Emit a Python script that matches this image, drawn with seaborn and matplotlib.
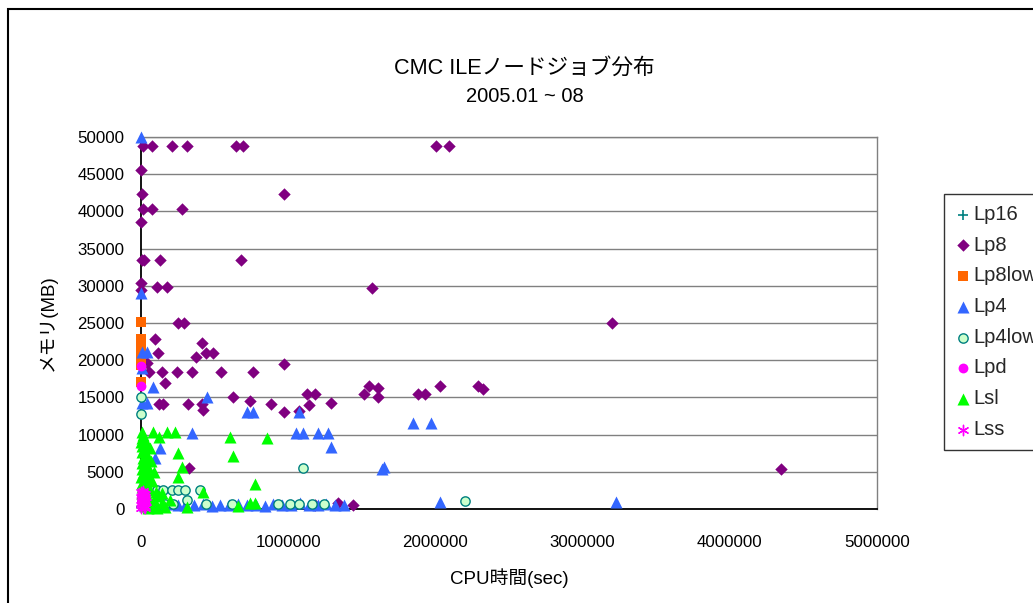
import matplotlib
matplotlib.use("Agg")
import matplotlib.pyplot as plt
import seaborn as sns
import pandas as pd
from matplotlib.patches import Rectangle

# ---------------- data ----------------
title_main = "CMC ILEノードジョブ分布"
title_sub = "2005.01 ~ 08"
x_label = "CPU時間(sec)"
y_label = "メモリ(MB)"
x_ticks = [0, 1000000, 2000000, 3000000, 4000000, 5000000]
y_ticks = [0, 5000, 10000, 15000, 20000, 25000, 30000, 35000, 40000, 45000, 50000]

lp16_x = [1000, 4000]
lp16_y = [300, 900]

lp8_x = [14000, 75000, 211000, 313000, 646000, 694000, 2007000, 2095000,
         3000, 5000, 973000, 14000, 75000, 279000, 3000,
         5000, 20000, 129000, 680000, 3000, 2000, 110000, 177000, 1570000,
         252000, 293000, 3200000, 95000, 415000, 116000, 374000, 442000, 490000, 973000, 40000,
         54000, 143000, 245000, 347000, 544000, 762000, 163000,
         2030000, 2290000, 2320000, 1550000, 1610000, 1515000, 1610000, 1880000, 1930000,
         1130000, 1180000, 1140000, 1290000, 973000, 1075000,
         122000, 150000, 320000, 415000, 422000, 626000, 741000, 884000,
         327000, 4350000, 1440000, 1340000, 1180000]
lp8_y = [48800, 48800, 48800, 48800, 48800, 48800, 48800, 48800,
         45600, 42300, 42300, 40300, 40300, 40300, 38600,
         33500, 33500, 33500, 33500, 30400, 29400, 29800, 29800, 29700,
         25000, 25000, 25000, 22800, 22300, 21000, 20400, 21000, 21000, 19500, 19600,
         18400, 18400, 18400, 18400, 18400, 18400, 16900,
         16500, 16500, 16100, 16500, 16300, 15500, 15100, 15500, 15500,
         15500, 15500, 14000, 14200, 13000, 13200,
         14100, 14100, 14100, 14100, 13300, 15100, 14500, 14100,
         5500, 5400, 500, 800, 500]

lp8low_x = [2000, 2000, 2000, 2000, 2000, 2000]
lp8low_y = [25100, 22900, 21700, 20300, 19300, 17100]

lp4_x = [2000, 2000, 5000, 40000, 5000, 80000, 449000, 5000, 40000,
         721000, 762000, 1070000, 1850000, 1970000, 1050000, 1100000, 1200000, 1270000,
         1290000, 1640000, 1650000, 347000, 129000, 95000, 27000, 2030000, 3230000,
         20000, 60000, 100000, 150000, 200000, 250000, 300000, 360000, 420000, 480000,
         540000, 600000, 660000, 720000, 780000, 840000, 900000, 960000, 1020000,
         1080000, 1140000, 1200000, 1260000, 1320000, 1380000]
lp4_y = [50000, 29000, 21100, 21100, 19000, 16400, 15100, 14200, 14200,
         13000, 13000, 13000, 11600, 11600, 10200, 10200, 10200, 10200,
         8300, 5400, 5600, 10200, 8200, 6900, 4300, 900, 900,
         500, 300, 600, 400, 700, 500, 600, 500, 700, 400,
         600, 500, 700, 500, 600, 400, 700, 600, 500,
         800, 600, 500, 700, 500, 600]

lp4low_x = [3000, 2000, 80000, 109000, 150000, 211000, 252000, 299000, 401000, 313000,
            163000, 218000, 442000, 619000, 932000, 1010000, 1070000, 1160000, 1240000,
            1100000, 2200000, 60000]
lp4low_y = [15100, 12800, 2500, 2600, 2600, 2600, 2600, 2600, 2600, 1200,
            700, 700, 700, 700, 700, 700, 700, 700, 700,
            5500, 1100, 1800]

lpd_x = [2000, 2000, 3000, 8000, 15000, 5000, 20000]
lpd_y = [19200, 16500, 1500, 800, 2000, 300, 1200]

lsl_x = [5000, 15000, 8000, 25000, 3000, 40000, 10000, 60000, 20000, 5000,
         30000, 50000, 12000, 70000, 4000, 25000, 45000, 8000, 35000, 90000,
         15000, 55000, 3000, 28000, 75000, 10000, 40000, 6000, 20000, 60000,
         100000, 4000, 30000, 120000, 50000, 90000, 10000, 140000, 70000, 25000,
         160000, 110000, 45000,
         82000, 177000, 231000, 122000, 252000, 279000, 252000, 605000, 626000,
         857000, 776000, 422000, 313000, 660000, 741000, 776000, 143000, 200000]
lsl_y = [10400, 10000, 9500, 9200, 9000, 8800, 8500, 8200, 8000, 7600,
         7300, 7000, 6800, 6500, 6200, 6000, 5700, 5400, 5100, 5000,
         4800, 4500, 4300, 4000, 3700, 3500, 3200, 3000, 2800, 2600,
         2300, 2200, 2000, 1800, 1500, 1200, 1000, 800, 600, 400,
         300, 200, 100,
         10300, 10300, 10300, 9700, 7500, 5600, 4300, 9700, 7100,
         9500, 3400, 2300, 300, 400, 800, 800, 2100, 1200]

lss_x = [1000, 3000, 6000, 9000, 12000, 15000, 18000, 22000, 26000, 30000,
         2000, 5000, 8000, 11000, 14000, 17000, 20000, 24000, 28000, 32000,
         4000, 7000, 10000, 13000, 16000, 19000, 23000, 27000]
lss_y = [200, 500, 900, 1300, 1700, 2100, 300, 800, 1200, 1600,
         2300, 1900, 1500, 1100, 700, 300, 1800, 400, 2000, 1000,
         1400, 2200, 600, 2400, 1000, 1600, 2000, 100]

# ---------------- style ----------------
sns.set_theme(style="white")
plt.rcParams["font.family"] = ["Liberation Sans", "Noto Sans CJK JP", "DejaVu Sans"]

W, H = 1033, 603
fig = plt.figure(figsize=(W / 100, H / 100), dpi=100)
fig.patch.set_facecolor("white")

ax_l, ax_r, ax_t, ax_b = 141, 877, 137, 509
ax = fig.add_axes([ax_l / W, 1 - ax_b / H, (ax_r - ax_l) / W, (ax_b - ax_t) / H])

series = [
    ("Lp16", lp16_x, lp16_y, dict(marker="+", color="#008080", s=55, linewidth=1.2)),
    ("Lp8", lp8_x, lp8_y, dict(marker="D", color="#800080", s=40, linewidth=0)),
    ("Lp8low", lp8low_x, lp8low_y, dict(marker="s", color="#FF6600", s=45, linewidth=0)),
    ("Lp4", lp4_x, lp4_y, dict(marker="^", color="#3366FF", s=75, linewidth=0)),
    ("Lp4low", lp4low_x, lp4low_y, dict(marker="o", color="#CCFFCC", edgecolor="#008080", s=45, linewidth=1.0)),
    ("Lpd", lpd_x, lpd_y, dict(marker="o", color="#FF00FF", s=50, linewidth=0)),
    ("Lsl", lsl_x, lsl_y, dict(marker="^", color="#00FF00", s=75, linewidth=0)),
    ("Lss", lss_x, lss_y, dict(marker=(6, 2, 0), color="#FF00FF", s=55, linewidth=1.0)),
]

for z, (name, xs, ys, kw) in enumerate(series):
    df = pd.DataFrame({"cpu": xs, "mem": ys})
    sns.scatterplot(data=df, x="cpu", y="mem", ax=ax, label=name,
                    clip_on=False, zorder=3 + z, **kw)

ax.set_xlim(0, 5000000)
ax.set_ylim(0, 50000)
ax.set_xticks(x_ticks)
ax.set_yticks(y_ticks)
ax.set_xticklabels([str(v) for v in x_ticks])
ax.set_yticklabels([str(v) for v in y_ticks])
ax.tick_params(axis="both", direction="in", length=6, width=1, color="black",
               labelsize=12.2, labelcolor="black")
ax.tick_params(axis="x", pad=19)
ax.tick_params(axis="y", pad=12)
ax.yaxis.grid(True, color="#808080", linewidth=1)
ax.xaxis.grid(False)
ax.set_axisbelow(True)
for side in ["left", "bottom"]:
    ax.spines[side].set_color("black")
    ax.spines[side].set_linewidth(1.3)
for side in ["right", "top"]:
    ax.spines[side].set_color("#808080")
    ax.spines[side].set_linewidth(1)

ax.set_xlabel(x_label, fontsize=13.5, color="black", labelpad=13)
ax.set_ylabel(y_label, fontsize=13.5, color="black", labelpad=15)

fig.text(524 / W, 1 - 68 / H, title_main, ha="center", va="center", fontsize=15.6, color="black")
fig.text(525 / W, 1 - 97 / H, title_sub, ha="center", va="center", fontsize=14.5, color="black")

leg = ax.legend(loc="upper left", bbox_to_anchor=(944 / W, 1 - 194 / H),
                bbox_transform=fig.transFigure, frameon=True, fancybox=False,
                edgecolor="black", fontsize=14.5, labelspacing=0.58,
                handletextpad=0.1, handlelength=0.8, borderpad=0.55, borderaxespad=0,
                markerscale=1.0)
leg.get_frame().set_linewidth(1)

# chart area border
fig.add_artist(Rectangle((8 / W, -0.1), 1.2, 1 - 9 / H + 0.1, transform=fig.transFigure,
                         fill=False, edgecolor="black", linewidth=1.5))

fig.savefig("out.png", dpi=100)
